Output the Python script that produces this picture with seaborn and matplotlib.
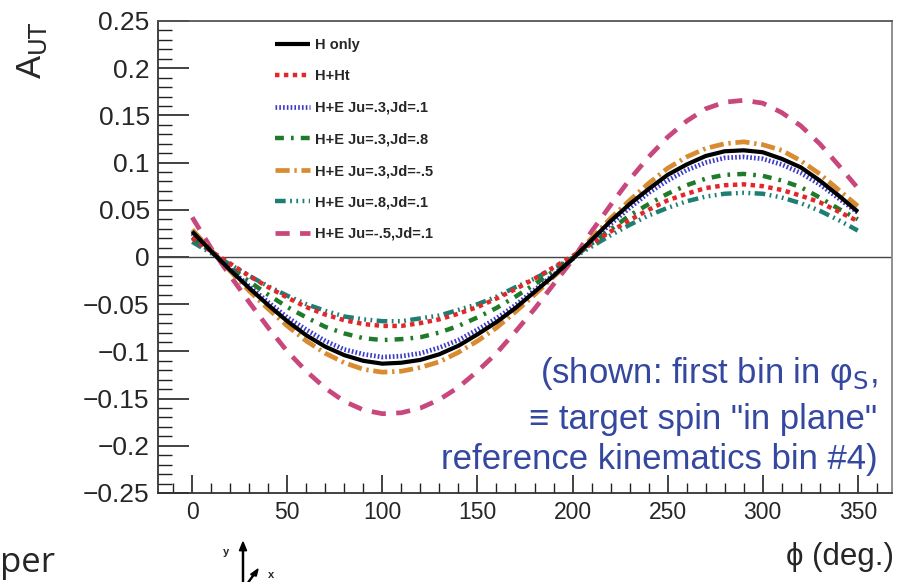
import numpy as np
import pandas as pd
import matplotlib
matplotlib.use("Agg")
import matplotlib.pyplot as plt
import seaborn as sns
from matplotlib.ticker import MultipleLocator, FuncFormatter

# ---- data ----
phi = [0, 10, 20, 30, 40, 50, 60, 70, 80, 90, 100, 110, 120, 130, 140, 150, 160, 170,
       180, 190, 200, 210, 220, 230, 240, 250, 260, 270, 280, 290, 300, 310, 320, 330, 340, 350]

h_only = [0.027, 0.006, -0.014, -0.033, -0.051, -0.068, -0.083, -0.095, -0.104, -0.110, -0.113, -0.112,
          -0.109, -0.103, -0.094, -0.082, -0.069, -0.054, -0.037, -0.020, -0.002, 0.018, 0.038, 0.056,
          0.072, 0.087, 0.098, 0.107, 0.112, 0.113, 0.111, 0.104, 0.095, 0.081, 0.065, 0.048]
h_ht = [0.020, 0.006, -0.007, -0.020, -0.032, -0.043, -0.053, -0.061, -0.067, -0.071, -0.073, -0.073,
        -0.070, -0.066, -0.060, -0.053, -0.044, -0.034, -0.023, -0.011, 0.001, 0.014, 0.027, 0.039,
        0.050, 0.060, 0.067, 0.073, 0.076, 0.077, 0.075, 0.071, 0.065, 0.058, 0.048, 0.038]
he_31 = [0.025, 0.006, -0.013, -0.031, -0.048, -0.064, -0.077, -0.089, -0.098, -0.103, -0.106, -0.105,
         -0.102, -0.096, -0.088, -0.077, -0.065, -0.051, -0.035, -0.019, -0.002, 0.017, 0.035, 0.052,
         0.068, 0.081, 0.092, 0.100, 0.105, 0.106, 0.104, 0.098, 0.089, 0.077, 0.062, 0.047]
he_38 = [0.021, 0.005, -0.011, -0.026, -0.040, -0.053, -0.064, -0.074, -0.081, -0.086, -0.088, -0.087,
         -0.085, -0.080, -0.073, -0.064, -0.054, -0.042, -0.029, -0.015, -0.001, 0.014, 0.029, 0.044,
         0.056, 0.067, 0.076, 0.083, 0.087, 0.088, 0.086, 0.081, 0.074, 0.063, 0.051, 0.040]
he_3m5 = [0.029, 0.007, -0.015, -0.036, -0.055, -0.073, -0.089, -0.102, -0.112, -0.119, -0.122, -0.121,
          -0.117, -0.111, -0.101, -0.089, -0.075, -0.058, -0.040, -0.021, -0.002, 0.020, 0.041, 0.060,
          0.078, 0.094, 0.106, 0.115, 0.120, 0.122, 0.119, 0.113, 0.102, 0.088, 0.071, 0.054]
he_81 = [0.016, 0.004, -0.008, -0.020, -0.031, -0.041, -0.050, -0.057, -0.063, -0.066, -0.068, -0.068,
         -0.065, -0.062, -0.056, -0.050, -0.042, -0.032, -0.023, -0.012, -0.001, 0.011, 0.023, 0.034,
         0.044, 0.052, 0.059, 0.064, 0.067, 0.068, 0.067, 0.063, 0.057, 0.049, 0.039, 0.028]
he_m51 = [0.042, 0.009, -0.020, -0.048, -0.075, -0.100, -0.121, -0.139, -0.153, -0.162, -0.166, -0.165,
          -0.160, -0.151, -0.138, -0.121, -0.102, -0.079, -0.055, -0.029, -0.003, 0.027, 0.055, 0.082,
          0.106, 0.127, 0.144, 0.157, 0.164, 0.166, 0.163, 0.153, 0.139, 0.120, 0.097, 0.073]

labels = ["H only", "H+Ht", "H+E Ju=.3,Jd=.1", "H+E Ju=.3,Jd=.8",
          "H+E Ju=.3,Jd=-.5", "H+E Ju=.8,Jd=.1", "H+E Ju=-.5,Jd=.1"]
series = [h_only, h_ht, he_31, he_38, he_3m5, he_81, he_m51]

colors = ["#000000", "#e3262a", "#3b3bc8", "#1f7a2a", "#d88b30", "#1d7f74", "#c8477c"]
dashes = [None, (1.0, 1.0), (0.35, 0.45), (2.0, 1.6, 0.6, 1.6), (3.0, 1.0, 0.5, 1.0),
          (2.4, 1.0, 0.4, 1.0, 0.4, 1.0, 0.4, 1.0), (3.0, 2.2)]
widths = [3.0, 3.2, 3.4, 3.2, 3.4, 3.2, 3.4]

sns.set_style("white")
plt.rcParams['font.family'] = ['Liberation Sans', 'DejaVu Sans']

fig = plt.figure(figsize=(8.97, 5.82), dpi=100)
ax = fig.add_axes([158 / 897, 1 - 493 / 582, (892 - 158) / 897, (493 - 21) / 582])

ax.axhline(0, color="#444444", lw=1.0, zorder=1)

order = [6, 5, 4, 3, 2, 1, 0]
for i in order:
    df = pd.DataFrame({"phi": phi, "A": series[i]})
    sns.lineplot(data=df, x="phi", y="A", ax=ax, color=colors[i], linewidth=widths[i],
                 label=labels[i], zorder=3 + (7 - i))
    ln = ax.lines[-1]
    if dashes[i] is not None:
        ln.set_dashes(dashes[i])
    ln.set_solid_capstyle("butt")
    ln.set_dash_capstyle("butt")

ax.set_xlim(-18, 368)
ax.set_ylim(-0.25, 0.25)
ax.set_xlabel("")
ax.set_ylabel("")

ax.xaxis.set_major_locator(MultipleLocator(50))
ax.xaxis.set_minor_locator(MultipleLocator(10))
ax.yaxis.set_major_locator(MultipleLocator(0.05))
ax.yaxis.set_minor_locator(MultipleLocator(0.01))
ax.yaxis.set_major_formatter(FuncFormatter(lambda v, p: ("%g" % round(v, 3)).replace("-", "\u2212")))
ax.xaxis.set_major_formatter(FuncFormatter(lambda v, p: "%g" % v))

ax.tick_params(axis="x", which="major", direction="in", length=13, width=1.2, labelsize=16.5, pad=6, color="#222222")
ax.tick_params(axis="x", which="minor", direction="in", length=7, width=1.0, color="#222222")
ax.tick_params(axis="y", which="major", direction="in", length=22, width=1.2, labelsize=19, pad=6, color="#222222")
ax.tick_params(axis="y", which="minor", direction="in", length=10, width=1.0, color="#222222")
ax.tick_params(which="both", bottom=True, left=True, top=False, right=False)

for s in ax.spines.values():
    s.set_color("#333333")
    s.set_linewidth(1.3)
ax.spines["right"].set_color("#888888")
ax.spines["top"].set_color("#555555")

# legend (reference order)
handles, labs = ax.get_legend_handles_labels()
hmap = dict(zip(labs, handles))
leg = ax.legend([hmap[l] for l in labels], labels, loc="upper left",
                bbox_to_anchor=((275 - 158) / 734, (493 - 38) / 472),
                frameon=False, prop={"size": 10.5, "weight": "bold"},
                handlelength=2.4, handletextpad=0.35, labelspacing=1.2,
                borderaxespad=0.0, borderpad=0.0)

# annotation in blue
txt_col = "#3548a0"
ax.text(0.980, (493 - 373) / 472, "(shown: first bin in \u03c6$_\\mathrm{S}$,",
        transform=ax.transAxes, ha="right", va="center", fontsize=25, color=txt_col)
ax.text(0.980, (493 - 419) / 472, "\u2261 target spin \"in plane\"",
        transform=ax.transAxes, ha="right", va="center", fontsize=25, color=txt_col)
ax.text(0.980, (493 - 459) / 472, "reference kinematics bin #4)",
        transform=ax.transAxes, ha="right", va="center", fontsize=25, color=txt_col)

# axis titles
fig.text(32 / 897, 1 - 50 / 582, r"A$_{\mathrm{UT}}$", rotation=90, ha="center", va="center",
         fontsize=25)
fig.text(894 / 897, 1 - 557 / 582, "\u03d5 (deg.)", ha="right", va="center", fontsize=22.5)

# slide remnants
fig.text(0.0, 1 - 572 / 582, "per", ha="left", va="baseline", fontsize=25,
         family=["Open Sans", "DejaVu Sans"])
fig.text(226 / 897, 1 - 552 / 582, "y", fontsize=8, ha="center", va="center", weight="bold")
fig.text(271 / 897, 1 - 575 / 582, "x", fontsize=8, ha="center", va="center", weight="bold")
fig.patches.append(matplotlib.patches.FancyArrow(243 / 897, 1 - 586 / 582, 0, 44 / 582,
                   width=0.0012, head_width=0.008, head_length=0.015, color="black",
                   transform=fig.transFigure, figure=fig, length_includes_head=True))
fig.patches.append(matplotlib.patches.FancyArrow(247 / 897, 1 - 584 / 582, 11 / 897, 15 / 582,
                   width=0.0012, head_width=0.007, head_length=0.012, color="black",
                   transform=fig.transFigure, figure=fig, length_includes_head=True))

fig.savefig("out.png", dpi=100)
